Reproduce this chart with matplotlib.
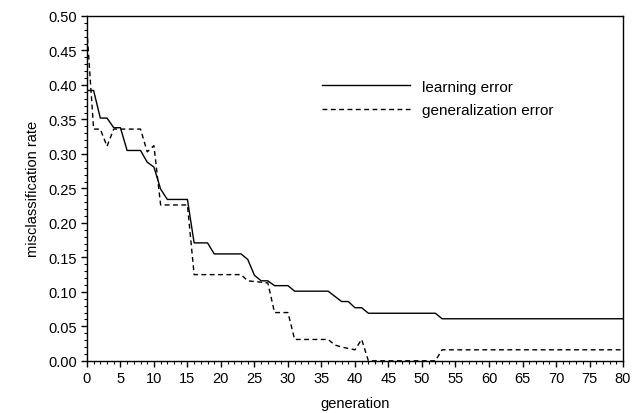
import numpy as np
import matplotlib
matplotlib.use("Agg")
import matplotlib.pyplot as plt
from matplotlib.ticker import MultipleLocator

plt.rcParams['font.family'] = ['Liberation Sans', 'DejaVu Sans']

# learning error (solid)
learn_gen = [0, 1, 2, 3, 4, 5, 6, 8, 9, 10, 11, 12, 15, 16, 18, 19, 23, 24, 25, 26, 27, 28,
             30, 31, 36, 38, 39, 40, 41, 42, 52, 53, 80]
learn_err = [0.392, 0.392, 0.352, 0.352, 0.338, 0.338, 0.305, 0.305, 0.288, 0.281, 0.249, 0.234,
             0.234, 0.171, 0.171, 0.155, 0.155, 0.147, 0.124, 0.116, 0.116, 0.109,
             0.109, 0.101, 0.101, 0.086, 0.086, 0.077, 0.077, 0.069, 0.069, 0.061, 0.061]

# generalization error (dashed)
gen_gen = [0, 1, 2, 3, 4, 8, 9, 10, 11, 15, 16, 23, 24, 27, 28, 30, 31, 36, 37, 38, 39, 40, 41,
           42, 52, 53, 80]
gen_err = [0.48, 0.336, 0.336, 0.311, 0.336, 0.336, 0.303, 0.312, 0.226, 0.226, 0.125, 0.125,
           0.116, 0.113, 0.070, 0.070, 0.031, 0.031, 0.023, 0.020, 0.018, 0.016, 0.031,
           0.0, 0.0, 0.016, 0.016]

fig = plt.figure(figsize=(6.39, 4.14), dpi=100)
ax = fig.add_axes([0.136, 0.126, 0.839, 0.833])

ax.plot(learn_gen, learn_err, color='black', lw=1.0, label='learning error')
ax.plot(gen_gen, gen_err, color='black', lw=1.0, ls=(0, (3.5, 2.5)), label='generalization error')

ax.set_xlim(0, 80)
ax.set_ylim(0, 0.5)
ax.xaxis.set_major_locator(MultipleLocator(5))
ax.xaxis.set_minor_locator(MultipleLocator(1))
ax.yaxis.set_major_locator(MultipleLocator(0.05))
ax.yaxis.set_minor_locator(MultipleLocator(0.01))
ax.yaxis.set_major_formatter(matplotlib.ticker.FormatStrFormatter('%.2f'))
ax.tick_params(which='major', direction='out', length=4.3, width=1, labelsize=10.5, pad=3)
ax.tick_params(which='minor', direction='out', length=2.2, width=0.8)
for s in ax.spines.values():
    s.set_linewidth(1.0)
    s.set_zorder(3)

ax.set_xlabel('generation', fontsize=10.5, labelpad=8)
ax.set_ylabel('misclassification rate', fontsize=10.5, labelpad=6)

ax.legend(loc='upper left', bbox_to_anchor=(0.438, 0.815), frameon=False, borderpad=0,
          handlelength=5.8, handletextpad=0.75, labelspacing=0.6, fontsize=11,
          borderaxespad=0)

fig.savefig('out.png', dpi=100)
